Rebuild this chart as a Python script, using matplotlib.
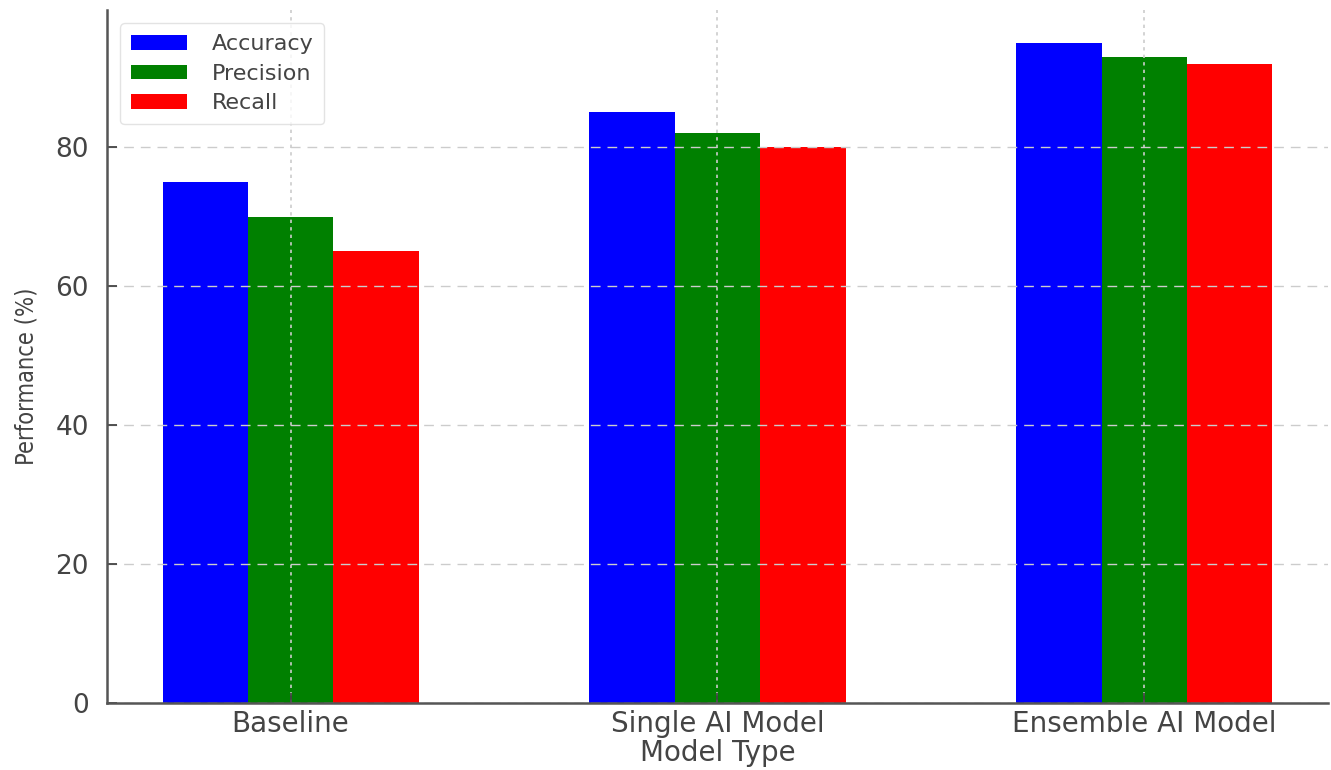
import numpy as np
import matplotlib
matplotlib.use("Agg")
import matplotlib.pyplot as plt
from matplotlib import font_manager

# Datos del gráfico
model_types = ["Baseline", "Single AI Model", "Ensemble AI Model"]
accuracy = [75, 85, 95]
precision = [70, 82, 93]
recall = [65, 80, 92]

text_color = "#444444"
plt.rcParams["text.color"] = text_color
plt.rcParams["axes.labelcolor"] = text_color
plt.rcParams["xtick.color"] = text_color
plt.rcParams["ytick.color"] = text_color

# Fuente estrecha para la etiqueta vertical, si existe
narrow = None
for f in font_manager.fontManager.ttflist:
    if "Condensed" in f.fname and "DejaVuSans" in f.fname and "Bold" not in f.fname \
            and "Oblique" not in f.fname:
        narrow = f.fname
        break

fig = plt.figure(figsize=(13.31, 7.70), dpi=100)
ax = fig.add_axes([0.0804, 0.087, 0.9173, 0.90])

x = np.arange(len(model_types))
width = 0.2

ax.bar(x - width, accuracy, width, label="Accuracy", color="blue")
ax.bar(x, precision, width, label="Precision", color="green")
ax.bar(x + width, recall, width, label="Recall", color="red")

ax.set_xticks(x)
ax.set_xticklabels(model_types, fontsize=20)
ax.set_yticks([0, 20, 40, 60, 80])
ax.tick_params(axis="y", labelsize=19, direction="in", length=7, width=1.3, pad=13)
ax.tick_params(axis="x", direction="in", length=7, width=1.3, pad=5)
ax.set_xlabel("Model Type", fontsize=20, labelpad=1)
if narrow:
    ax.set_ylabel("Performance (%)",
                  fontproperties=font_manager.FontProperties(fname=narrow, size=17))
else:
    ax.set_ylabel("Performance (%)", fontsize=14)
ax.yaxis.set_label_coords(-0.056, 0.472)

# Rejilla
ax.yaxis.grid(True, color="#cccccc", linewidth=1, dashes=(7, 5))
ax.xaxis.grid(True, color="#cccccc", linewidth=1.2, dashes=(2, 2.5))

for side in ["top", "right"]:
    ax.spines[side].set_visible(False)
for side in ["left", "bottom"]:
    ax.spines[side].set_color("#555555")
    ax.spines[side].set_linewidth(1.8)

leg = ax.legend(loc="upper left", fontsize=16, handlelength=2.5, handleheight=0.65,
                handletextpad=1.1, borderpad=0.5, labelspacing=0.42,
                borderaxespad=0.6)
for t in leg.get_texts():
    t.set_color(text_color)
leg.get_frame().set_edgecolor("#dddddd")

fig.savefig("out.png", dpi=100)
